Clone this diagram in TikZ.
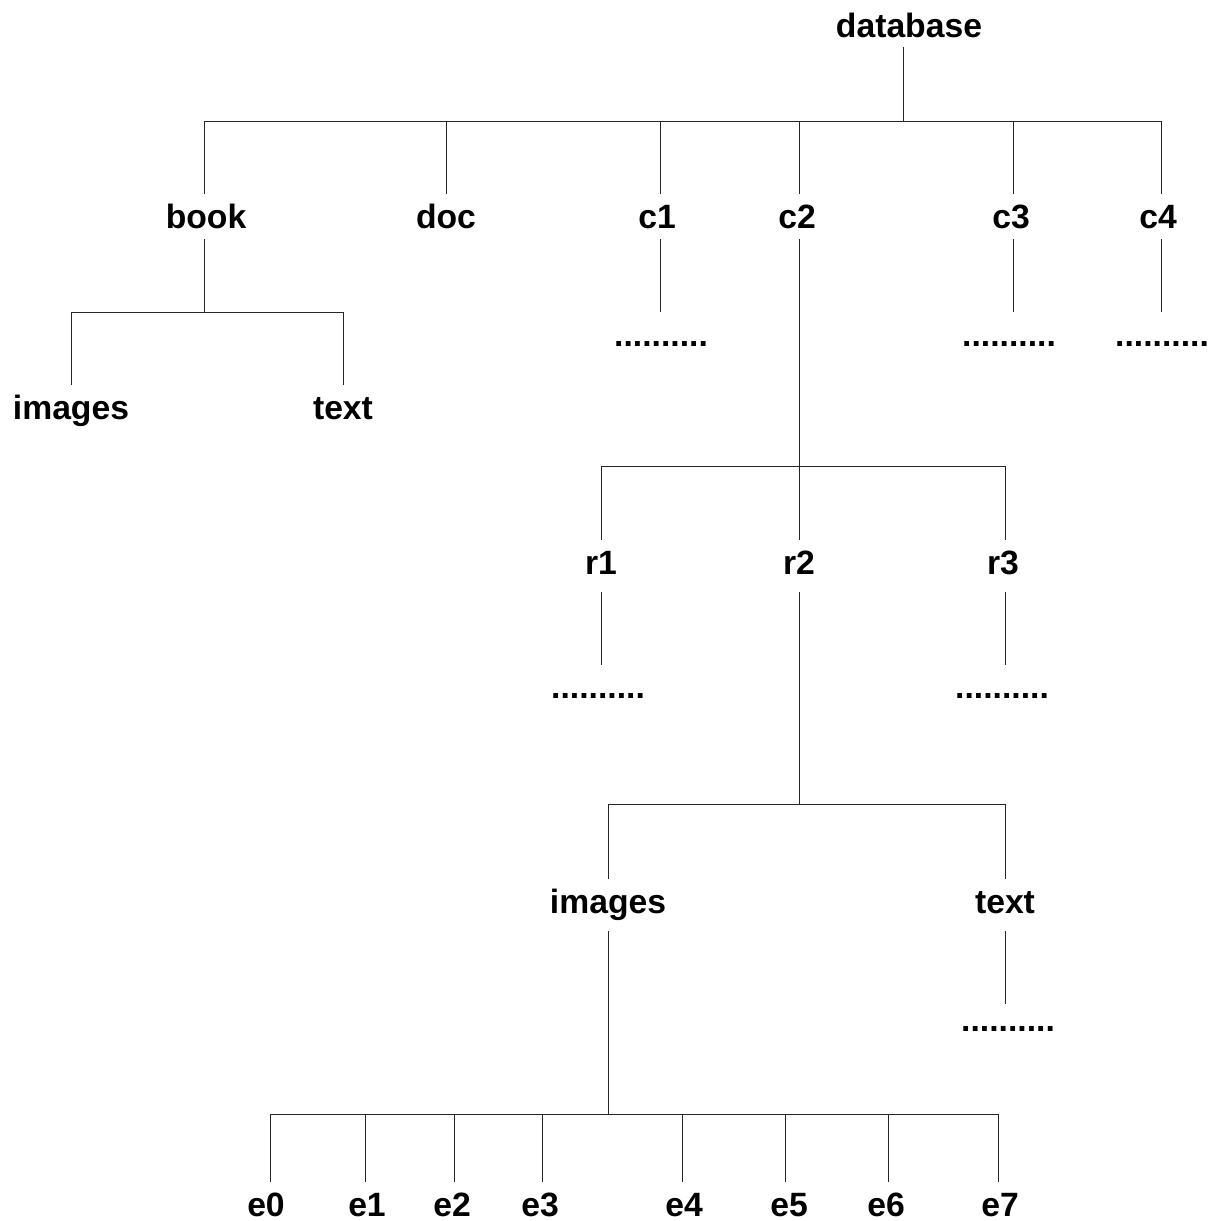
\documentclass[tikz,border=0pt]{standalone}
\usepackage{fontspec}
\setmainfont{Liberation Sans}
\begin{document}
\begin{tikzpicture}[x=1pt,y=-1pt,
  lbl/.style={anchor=base,inner sep=0pt,outer sep=0pt,text height=34pt,text depth=11pt,
    font=\fontsize{33.7pt}{40pt}\selectfont\bfseries},
  deep/.style={text depth=18pt},
  dotsn/.style={lbl,text height=33pt},
  wire/.style={line width=1pt,draw=black!85}]
\useasboundingbox (0,0) rectangle (1208,1221);
% nodes
\node[lbl,text depth=10pt] (db) at (909,37) {database};
\node[lbl] (book) at (206,228) {book};
\node[lbl] (doc) at (446,228) {doc};
\node[lbl] (c1) at (657,228) {c1};
\node[lbl] (c2) at (797,228) {c2};
\node[lbl] (c3) at (1011,228) {c3};
\node[lbl] (c4) at (1158,228) {c4};
\node[lbl] (bimg) at (71,419) {images};
\node[lbl] (btxt) at (343,419) {text};
\node[dotsn,text height=34pt] (c1d) at (661,346) {..........};
\node[dotsn,text height=34pt] (c3d) at (1009,346) {..........};
\node[dotsn,text height=34pt] (c4d) at (1162,346) {..........};
\node[lbl,deep] (r1) at (601,574) {r1};
\node[lbl,deep] (r2) at (799,574) {r2};
\node[lbl,deep] (r3) at (1003,574) {r3};
\node[dotsn] (r1d) at (598,698) {..........};
\node[dotsn] (r3d) at (1002,698) {..........};
\node[lbl,deep] (img) at (608,913) {images};
\node[lbl,deep] (txt) at (1005,913) {text};
\node[dotsn,text height=27pt] (txtd) at (1008,1031) {..........};
\foreach \n/\x in {0/266,1/367,2/452,3/540,4/684,5/789,6/886,7/1000}
  \node[lbl] (e\n) at (\x,1216) {e\n};
% line positions (vertical connector x) and bus levels
\coordinate (j0) at (903,121);
\coordinate (jb) at (204,312);
\coordinate (jc) at (799,466);
\coordinate (jr) at (799,804);
\coordinate (ji) at (608,1114);
\coordinate (xbook) at (204,0);
\coordinate (xc1) at (660,0);
\coordinate (xc2) at (799,0);
\coordinate (xc3) at (1013,0);
\coordinate (xc4) at (1161,0);
\coordinate (xr3) at (1005,0);
\coordinate (xtxt) at (1005,0);
\foreach \n/\x in {0/270,1/365,2/454,3/542,4/682,5/785,6/888,7/998}
  \coordinate (xe\n) at (\x,0);
% connectors
\draw[wire] (db.south -| j0) -- (j0);
\draw[wire] (j0) -| (book.north -| xbook);
\draw[wire] (j0) -| (doc.north);
\draw[wire] (j0) -| (c1.north -| xc1);
\draw[wire] (j0) -| (c2.north -| xc2);
\draw[wire] (j0) -| (c3.north -| xc3);
\draw[wire] (j0) -| (c4.north -| xc4);
\draw[wire] (book.south -| xbook) -- (jb);
\foreach \c in {bimg,btxt}
  \draw[wire] (jb) -| (\c.north);
\draw[wire] (c1.south -| xc1) -- (c1d.north -| xc1);
\draw[wire] (c3.south -| xc3) -- (c3d.north -| xc3);
\draw[wire] (c4.south -| xc4) -- (c4d.north -| xc4);
\draw[wire] (c2.south -| xc2) -- (jc);
\draw[wire] (jc) -| (r1.north);
\draw[wire] (jc) -| (r2.north);
\draw[wire] (jc) -| (r3.north -| xr3);
\draw[wire] (r1.south) -- (r1.south |- r1d.north);
\draw[wire] (r3.south -| xr3) -- (r3d.north -| xr3);
\draw[wire] (r2.south) -- (jr);
\draw[wire] (jr) -| (img.north);
\draw[wire] (jr) -| (txt.north);
\draw[wire] (txt.south -| xtxt) -- (txtd.north -| xtxt);
\draw[wire] (img.south) -- (ji);
\foreach \n in {0,...,7}
  \draw[wire] (ji) -| (e\n.north -| xe\n);
\end{tikzpicture}
\end{document}
